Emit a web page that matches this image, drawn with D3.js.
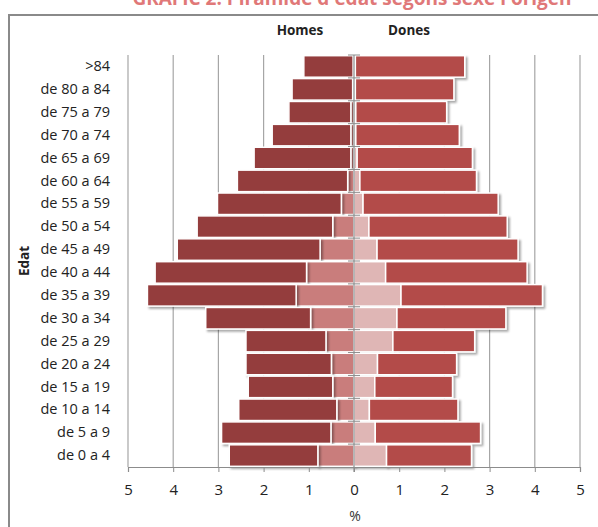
<!DOCTYPE html>
<html>
<head>
<meta charset="utf-8">
<script src="https://cdn.jsdelivr.net/npm/d3@7"></script>
<style>
  html, body { margin: 0; padding: 0; background: #fff; }
  svg { display: block; }
  text { font-family: "Open Sans", "Noto Sans", sans-serif; }
</style>
</head>
<body>
<svg id="chart" width="598" height="527"></svg>
<script>
// ---- data (top row first) ----
const categories = [">84", "de 80 a 84", "de 75 a 79", "de 70 a 74", "de 65 a 69", "de 60 a 64",
  "de 55 a 59", "de 50 a 54", "de 45 a 49", "de 40 a 44", "de 35 a 39", "de 30 a 34",
  "de 25 a 29", "de 20 a 24", "de 15 a 19", "de 10 a 14", "de 5 a 9", "de 0 a 4"];
// Homes (men): foreign-born and native-born, % of population
const menForeign = [0.02, 0.03, 0.07, 0.07, 0.07, 0.14, 0.28, 0.47, 0.75, 1.05, 1.28, 0.96, 0.62, 0.50, 0.47, 0.38, 0.51, 0.80];
const menNative  = [1.09, 1.34, 1.37, 1.74, 2.14, 2.44, 2.74, 3.00, 3.16, 3.35, 3.29, 2.32, 1.77, 1.89, 1.87, 2.17, 2.42, 1.96];
// Dones (women)
const womenForeign = [0.03, 0.03, 0.04, 0.04, 0.07, 0.13, 0.20, 0.33, 0.51, 0.70, 1.04, 0.95, 0.86, 0.52, 0.46, 0.34, 0.47, 0.72];
const womenNative  = [2.42, 2.18, 2.01, 2.29, 2.55, 2.58, 2.99, 3.06, 3.12, 3.13, 3.13, 2.41, 1.81, 1.75, 1.72, 1.96, 2.33, 1.88];
const xTicks = [-5, -4, -3, -2, -1, 0, 1, 2, 3, 4, 5];
const titleText = "GRÀFIC 2. Piràmide d'edat segons sexe i origen";

const svg = d3.select("#chart");
const defs = svg.append("defs");
const f = defs.append("filter").attr("id", "shadow").attr("x", "-10%").attr("y", "-30%").attr("width", "130%").attr("height", "180%");
f.append("feDropShadow").attr("dx", 2).attr("dy", 2).attr("stdDeviation", 1.2)
  .attr("flood-color", "#000").attr("flood-opacity", 0.35);

// frame + title
svg.append("rect").attr("x", 9).attr("y", 15).attr("width", 640).attr("height", 560)
  .attr("fill", "none").attr("stroke", "#8a8a8a").attr("stroke-width", 2);
svg.append("text").attr("x", 352).attr("y", 5).attr("text-anchor", "middle")
  .attr("font-size", 19).attr("font-weight", "bold").attr("fill", "#e07878").text(titleText);

const x = d3.scaleLinear().domain([-5, 5]).range([128, 580]);
const y = d3.scaleBand().domain(categories).range([55, 467]).paddingInner(0.06).paddingOuter(0.03);

// gridlines
svg.append("g").selectAll("line").data(xTicks.filter(d => d !== 0)).join("line")
  .attr("x1", d => x(d)).attr("x2", d => x(d)).attr("y1", 55).attr("y2", 467)
  .attr("stroke", "#a6a6a6").attr("stroke-width", 1.2);

// bars
const rows = categories.map((c, i) => ({
  c,
  segs: [
    { x0: 0, x1: -menForeign[i], col: "#c97d7b" },
    { x0: -menForeign[i], x1: -(menForeign[i] + menNative[i]), col: "#943c3c" },
    { x0: 0, x1: womenForeign[i], col: "#dfb6b5" },
    { x0: womenForeign[i], x1: womenForeign[i] + womenNative[i], col: "#b34b49" }
  ]
}));
const gBars = svg.append("g");
rows.forEach(r => {
  gBars.append("g").selectAll("rect").data(r.segs).join("rect")
    .attr("x", d => Math.min(x(d.x0), x(d.x1)))
    .attr("width", d => Math.abs(x(d.x1) - x(d.x0)))
    .attr("y", y(r.c)).attr("height", y.bandwidth())
    .attr("fill", d => d.col).attr("stroke", "#fff").attr("stroke-width", 1.5)
    .attr("filter", "url(#shadow)");
});

// zero (category) axis line with cross ticks at band boundaries
const zx = x(0);
const gZero = svg.append("g").attr("stroke", "#8c8c8c");
gZero.append("line").attr("x1", zx).attr("x2", zx).attr("y1", 55).attr("y2", 472).attr("stroke-width", 1.2);
const step = y.step();
const bounds = d3.range(categories.length).map(i => y(categories[i]) - (step - y.bandwidth()) / 2);
gZero.selectAll("line.t").data(bounds).join("line").attr("class", "t")
  .attr("x1", zx - 6).attr("x2", zx + 6).attr("y1", d => d).attr("y2", d => d).attr("stroke-width", 1);

// x axis
const xAxis = svg.append("g").attr("transform", "translate(0,467)")
  .call(d3.axisBottom(x).tickValues(xTicks).tickSize(5).tickPadding(12).tickFormat(d => Math.abs(d)));
xAxis.select(".domain").attr("stroke", "#8c8c8c").attr("stroke-width", 1.2);
xAxis.selectAll(".tick line").attr("stroke", "#8c8c8c");
xAxis.selectAll(".tick text").attr("font-size", 15).attr("fill", "#222")
  .attr("font-family", "'Open Sans', sans-serif");

// category labels
const yAxis = svg.append("g").attr("transform", "translate(128,0)")
  .call(d3.axisLeft(y).tickSize(0).tickPadding(18));
yAxis.select(".domain").remove();
yAxis.selectAll(".tick text").attr("font-size", 14.5).attr("fill", "#222")
  .attr("font-family", "'Open Sans', sans-serif");

// headers and axis titles
svg.append("text").attr("x", 300).attr("y", 35).attr("text-anchor", "middle")
  .attr("font-size", 13.5).attr("font-weight", "bold").attr("fill", "#222").text("Homes");
svg.append("text").attr("x", 409).attr("y", 35).attr("text-anchor", "middle")
  .attr("font-size", 13.5).attr("font-weight", "bold").attr("fill", "#222").text("Dones");
svg.append("text").attr("transform", "translate(29,261) rotate(-90)").attr("text-anchor", "middle")
  .attr("font-size", 13.5).attr("font-weight", "bold").attr("fill", "#222").text("Edat");
svg.append("text").attr("x", zx + 1).attr("y", 521).attr("text-anchor", "middle")
  .attr("font-size", 14).attr("fill", "#333").text("%");
</script>
</body>
</html>
